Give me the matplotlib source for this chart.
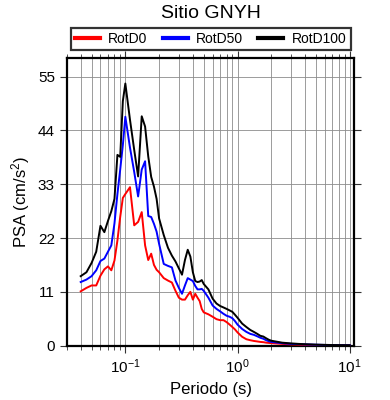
import matplotlib
matplotlib.use("Agg")
import matplotlib.pyplot as plt
from matplotlib.ticker import LogLocator, FixedLocator, NullFormatter

plt.rcParams['font.family'] = ['Liberation Sans', 'DejaVu Sans']
plt.rcParams['mathtext.fontset'] = 'custom'
plt.rcParams['mathtext.rm'] = 'Liberation Sans'
plt.rcParams['mathtext.it'] = 'Liberation Sans:italic'

title = "Sitio GNYH"
series_names = ["RotD0", "RotD50", "RotD100"]
series_colors = ["#ff0000", "#0000ff", "#000000"]

periods = [0.04, 0.045, 0.05, 0.055, 0.06, 0.065, 0.07, 0.075, 0.08, 0.085, 0.09, 0.095, 0.1,
           0.11, 0.12, 0.13, 0.14, 0.15, 0.16, 0.17, 0.18, 0.19, 0.2,
           0.22, 0.24, 0.26, 0.28, 0.3, 0.32, 0.34, 0.36, 0.38, 0.4, 0.42, 0.44, 0.46, 0.48, 0.5,
           0.55, 0.6, 0.65, 0.7, 0.75, 0.8, 0.85, 0.9, 0.95, 1.0,
           1.1, 1.2, 1.3, 1.4, 1.5, 1.6, 1.7, 1.8, 1.9, 2.0,
           2.5, 3.0, 3.5, 4.0, 5.0, 6.0, 7.0, 8.0, 9.0, 10.0]

rotd100 = [14.2, 15.0, 16.9, 19.2, 24.5, 23.2, 25.5, 27.5, 30.0, 39.0, 38.6, 50.0, 53.6,
           46.2, 40.0, 34.6, 46.9, 44.8, 38.7, 34.5, 32.5, 30.0, 26.0,
           22.6, 20.0, 18.4, 17.2, 15.8, 14.5, 17.5, 19.6, 18.2, 15.0, 13.2, 13.0, 13.1, 13.4, 12.6,
           11.5, 9.6, 8.6, 8.1, 7.8, 7.5, 7.2, 6.9, 6.3, 5.7,
           4.5, 3.8, 3.2, 2.8, 2.4, 2.0, 1.85, 1.5, 1.2, 1.0,
           0.6, 0.45, 0.35, 0.28, 0.2, 0.15, 0.12, 0.1, 0.09, 0.08]

rotd50 = [13.0, 13.5, 14.2, 15.4, 17.3, 17.8, 19.2, 20.5, 25.0, 31.0, 36.0, 41.0, 46.8,
          40.5, 35.5, 30.5, 36.0, 37.7, 26.5, 26.3, 24.9, 23.3, 20.8,
          16.7, 16.3, 16.0, 13.3, 11.8, 10.6, 12.3, 13.8, 13.5, 13.2, 12.2, 11.5, 11.5, 11.6, 11.2,
          9.8, 8.2, 7.5, 7.0, 6.5, 6.1, 5.9, 5.6, 5.0, 4.3,
          3.4, 2.8, 2.4, 2.2, 1.9, 1.6, 1.4, 1.1, 0.9, 0.75,
          0.5, 0.35, 0.3, 0.25, 0.18, 0.14, 0.11, 0.09, 0.08, 0.07]

rotd0 = [11.1, 11.8, 12.3, 12.3, 14.3, 15.6, 16.2, 15.4, 17.4, 21.5, 26.3, 30.2, 31.0,
         32.4, 24.6, 25.3, 27.3, 20.5, 17.5, 18.8, 16.5, 15.5, 15.0,
         13.8, 13.3, 12.9, 11.2, 9.8, 9.4, 9.4, 10.3, 11.0, 9.4, 10.6, 9.8, 9.1, 7.5, 6.8,
         6.4, 5.9, 5.4, 5.2, 5.2, 4.8, 4.3, 3.8, 3.3, 2.7,
         1.8, 1.3, 1.1, 0.95, 0.85, 0.75, 0.7, 0.6, 0.55, 0.5,
         0.35, 0.25, 0.2, 0.17, 0.12, 0.1, 0.08, 0.07, 0.06, 0.05]

y_ticks = [0, 11, 22, 33, 44, 55]

fig = plt.figure(figsize=(3.9, 4.0), dpi=100)
ax = fig.add_axes([0.171, 0.136, 0.7375, 0.72])

for vals, name, col in zip([rotd0, rotd50, rotd100], series_names, series_colors):
    ax.plot(periods, vals, color=col, lw=1.4, label=name, zorder=3)

ax.set_xscale('log')
ax.set_xlim(0.03, 11)
ax.set_ylim(0, 58.9)
ax.yaxis.set_major_locator(FixedLocator(y_ticks))
ax.xaxis.set_major_locator(LogLocator(base=10, numticks=10))
ax.xaxis.set_minor_locator(LogLocator(base=10, subs=range(2, 10), numticks=20))
ax.xaxis.set_minor_formatter(NullFormatter())

ax.grid(True, which='both', axis='x', color='#8c8c8c', lw=0.6, zorder=0)
ax.grid(True, which='major', axis='y', color='#8c8c8c', lw=0.6, zorder=0)

for s in ax.spines.values():
    s.set_linewidth(1.6)

ax.tick_params(axis='both', which='both', direction='out', top=True, right=True,
               labelsize=11, color='#333333')
ax.tick_params(axis='both', which='major', length=5, width=0.8)
ax.tick_params(axis='x', which='minor', length=3, width=0.6)

ax.set_xlabel('Periodo (s)', fontsize=12, labelpad=4)
ax.set_ylabel('PSA (cm/s$^2$)', fontsize=12, labelpad=4)

fig.text(0.54, 0.965, title, ha='center', va='center', fontsize=14)

handles, labels = ax.get_legend_handles_labels()
leg = fig.legend(handles, labels, loc='center', bbox_to_anchor=(0.54, 0.9025), ncol=3,
                 frameon=True, fancybox=False, edgecolor='black', fontsize=10,
                 handlelength=1.8, handletextpad=0.6, columnspacing=1.1,
                 borderpad=0.3, borderaxespad=0)
leg.get_frame().set_linewidth(1.6)
for line in leg.get_lines():
    line.set_linewidth(3)

fig.savefig('out.png', dpi=100)
